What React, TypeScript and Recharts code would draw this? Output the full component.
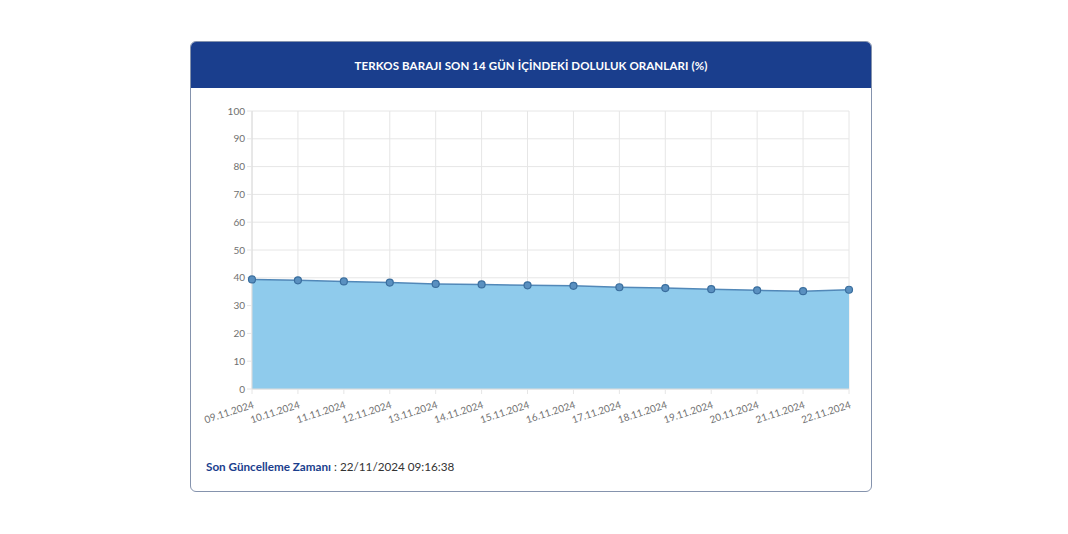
import React from "react";
import { AreaChart, Area, XAxis, YAxis, CartesianGrid } from "recharts";

const dates = ["09.11.2024","10.11.2024","11.11.2024","12.11.2024","13.11.2024","14.11.2024","15.11.2024","16.11.2024","17.11.2024","18.11.2024","19.11.2024","20.11.2024","21.11.2024","22.11.2024"];
const fillRates = [39.4, 39.1, 38.7, 38.3, 37.8, 37.6, 37.3, 37.1, 36.6, 36.3, 35.9, 35.5, 35.2, 35.7];
const yTicks = [0, 10, 20, 30, 40, 50, 60, 70, 80, 90, 100];
const titleText = "TERKOS BARAJI SON 14 GÜN İÇİNDEKİ DOLULUK ORANLARI (%)";
const footerLabel = "Son Güncelleme Zamanı";
const footerValue = " : 22/11/2024 09:16:38";

const data = dates.map((d, i) => ({ date: d, value: fillRates[i] }));

const font = "Lato, 'Noto Sans', sans-serif";

const XTick = (props: any) => {
  const { x, y, payload } = props;
  return (
    <g transform={`translate(${x},${y + 4})`}>
      <text
        x={0}
        y={0}
        dy={8}
        textAnchor="end"
        transform="rotate(-18)"
        fill="#707070"
        fontSize={10}
        fontFamily={font}
      >
        {payload.value}
      </text>
    </g>
  );
};

export default function App() {
  return (
    <div style={{ position: "absolute", left: 0, top: 0, width: 1068, height: 534, background: "#fff" }}>
      <div
        style={{
          position: "absolute",
          left: 190,
          top: 41,
          width: 682,
          height: 451,
          boxSizing: "border-box",
          border: "1.5px solid #8593ad",
          borderRadius: 6,
          overflow: "hidden",
          background: "#fff",
        }}
      >
        <div
          style={{
            height: 46,
            background: "#1a3e8d",
            color: "#fff",
            fontFamily: font,
            fontWeight: 700,
            fontSize: 11.5,
            display: "flex",
            alignItems: "center",
            justifyContent: "center",
            letterSpacing: 0.1,
          }}
        >
          {titleText}
        </div>
      </div>
      <div style={{ position: "absolute", left: 190, top: 87 }}>
        <AreaChart
          width={682}
          height={360}
          data={data}
          margin={{ top: 24, right: 23, left: 12, bottom: 0 }}
        >
          <CartesianGrid stroke="#e6e6e6" strokeWidth={1} />
          <XAxis
            dataKey="date"
            interval={0}
            height={58}
            tick={<XTick />}
            tickLine={{ stroke: "#e6e6e6" }}
            axisLine={{ stroke: "#dcdcdc" }}
            tickSize={5}
          />
          <YAxis
            domain={[0, 100]}
            ticks={yTicks}
            width={50}
            interval={0}
            tick={{ fill: "#707070", fontSize: 10, fontFamily: font }}
            tickLine={{ stroke: "#e6e6e6" }}
            axisLine={{ stroke: "#dcdcdc" }}
            tickSize={5}
          />
          <Area
            type="linear"
            dataKey="value"
            stroke="#5288b8"
            strokeWidth={1.5}
            fill="#8fcbec"
            fillOpacity={1}
            dot={{ r: 3.5, fill: "#5a90c0", stroke: "#3a6e9e", strokeWidth: 1.2 }}
            isAnimationActive={false}
          />
        </AreaChart>
      </div>
      <div
        style={{
          position: "absolute",
          left: 206,
          top: 459,
          fontFamily: font,
          fontSize: 11.7,
          color: "#333",
          whiteSpace: "nowrap",
        }}
      >
        <span style={{ color: "#1a3e8d", fontWeight: 700 }}>{footerLabel}</span>
        <span>{footerValue}</span>
      </div>
    </div>
  );
}
